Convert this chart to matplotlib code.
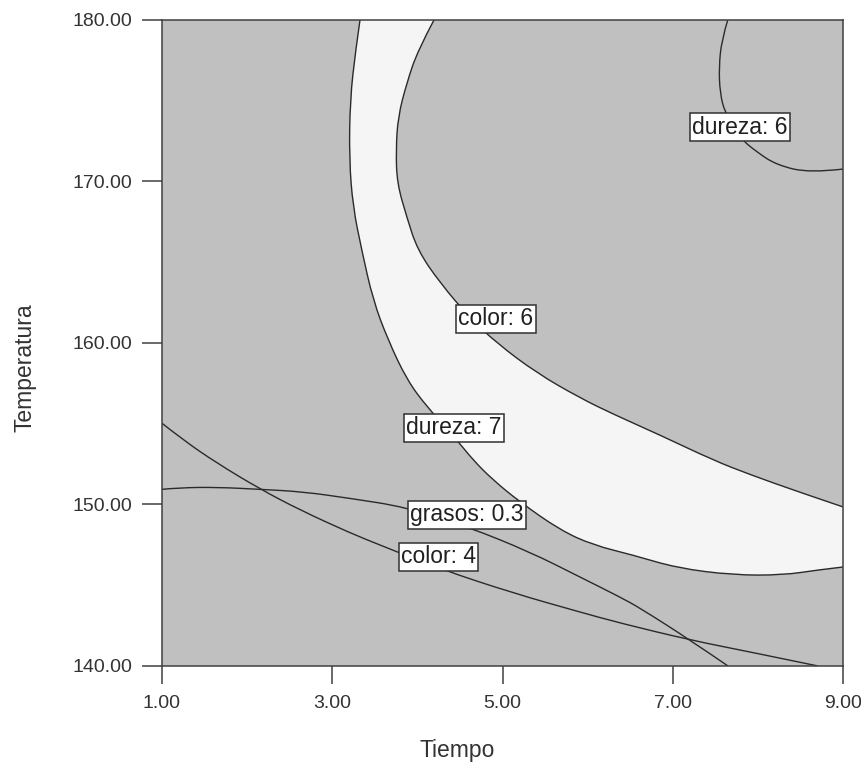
import numpy as np
import matplotlib
matplotlib.use('Agg')
from matplotlib import pyplot as plt
from matplotlib.path import Path
from matplotlib.patches import PathPatch

# curvas de contorno (Tiempo, Temperatura)
dureza7_x = [3.326, 3.275, 3.209, 3.200, 3.244, 3.346, 3.479, 3.655, 3.878, 4.113, 4.466,
             4.653, 4.888, 5.206, 5.676, 6.063, 6.533, 7.050, 7.708, 8.295, 8.694, 9.0]
dureza7_y = [180.0, 178.14, 175.05, 171.33, 168.42, 165.76, 162.66, 160.19, 157.71, 156.04, 153.99,
             152.76, 151.52, 150.15, 148.42, 147.49, 146.87, 146.07, 145.63, 145.63, 145.94, 146.13]

color6_x = [4.195, 4.007, 3.875, 3.772, 3.749, 3.761, 3.875, 4.001, 4.266, 4.618, 4.932,
            5.402, 5.910, 6.298, 6.850, 7.473, 7.908, 8.495, 9.0]
color6_y = [180.0, 178.14, 176.10, 173.99, 171.95, 169.91, 167.80, 165.76, 163.72, 161.55, 160.00,
            158.14, 156.60, 155.60, 154.30, 152.75, 151.85, 150.75, 149.85]

dureza6_x = [7.646, 7.575, 7.543, 7.555, 7.614, 7.790, 7.986, 8.221, 8.612, 9.0]
dureza6_y = [180.0, 178.76, 177.09, 175.48, 174.24, 172.69, 171.83, 171.02, 170.53, 170.77]

grasos_x = [1.0, 1.211, 1.643, 2.151, 2.656, 3.209, 3.855, 4.583, 5.323, 5.910, 6.380,
            6.615, 7.203, 7.649]
grasos_y = [150.94, 151.04, 151.07, 150.94, 150.79, 150.38, 149.85, 148.64, 147.06, 145.51, 144.27,
            143.59, 141.61, 140.0]

color4_x = [1.0, 1.250, 1.643, 2.151, 2.621, 3.209, 3.561, 4.266, 5.123, 5.910, 6.380,
            7.203, 7.908, 8.707]
color4_y = [155.03, 153.99, 152.57, 150.96, 149.66, 148.24, 147.49, 146.01, 144.52, 143.34, 142.66,
            141.61, 140.87, 140.0]

# etiquetas de las curvas
etiquetas = ['color: 6', 'dureza: 7', 'dureza: 6', 'grasos: 0.3', 'color: 4']
etiq_x = [4.924, 4.430, 7.790, 4.583, 4.248]
etiq_y = [161.49, 154.74, 173.37, 149.35, 146.75]

xticks = [1, 3, 5, 7, 9]
yticks = [140, 150, 160, 170, 180]


def suave(x, y):
    # trazo suave: los puntos leidos son puntos de control de curvas cuadraticas
    p = np.column_stack([x, y])
    verts = [p[0]]
    codes = [Path.MOVETO]
    for i in range(1, len(p) - 1):
        mid = (p[i] + p[i + 1]) / 2 if i < len(p) - 2 else p[i + 1]
        verts += [p[i], mid]
        codes += [Path.CURVE3, Path.CURVE3]
    if len(p) == 2:
        verts.append(p[1])
        codes.append(Path.LINETO)
    return verts, codes


plt.rcParams['font.family'] = ['Liberation Sans', 'DejaVu Sans']

fig = plt.figure(figsize=(8.62, 7.63), dpi=100)
ax = fig.add_axes([162 / 862, 97 / 763, 681 / 862, 646 / 763])
ax.set_facecolor('#c0c0c0')

# region factible (blanca) entre dureza 7 y color 6
v1, c1 = suave(dureza7_x, dureza7_y)
v2, c2 = suave(color6_x[::-1], color6_y[::-1])
c2 = [Path.LINETO] + c2[1:]
reg = Path(v1 + v2 + [v1[0]], c1 + c2 + [Path.CLOSEPOLY])
ax.add_patch(PathPatch(reg, fc='#f5f5f5', lw=0, zorder=1))

for cx, cy in [(dureza7_x, dureza7_y), (color6_x, color6_y), (dureza6_x, dureza6_y),
               (grasos_x, grasos_y), (color4_x, color4_y)]:
    v, c = suave(cx, cy)
    ax.add_patch(PathPatch(Path(v, c), fc='none', ec='#2a2a2a', lw=1.0, zorder=2))

for t, tx, ty in zip(etiquetas, etiq_x, etiq_y):
    ax.text(tx, ty, t, fontsize=16.5, color='#202020', ha='center', va='center', zorder=5,
            bbox=dict(boxstyle='square,pad=0.1', fc='white', ec='#303030', lw=1.1))

ax.set_xlim(1, 9)
ax.set_ylim(140, 180)
ax.set_xticks(xticks)
ax.set_yticks(yticks)
ax.set_xticklabels(['%.2f' % v for v in xticks])
ax.set_yticklabels(['%.2f' % v for v in yticks])
ax.tick_params(axis='x', length=13, width=1.1, color='#404040', pad=8, labelsize=14,
               labelcolor='#333333')
ax.tick_params(axis='y', length=14.5, width=1.1, color='#404040', pad=7, labelsize=14,
               labelcolor='#333333')
for s in ax.spines.values():
    s.set_color('#404040')
    s.set_linewidth(1.1)

fig.text(457 / 862, 1 - 751 / 763, 'Tiempo', fontsize=16.5, color='#333333',
         ha='center', va='center')
fig.text(25 / 862, 1 - 368 / 763, 'Temperatura', fontsize=16.5, color='#333333',
         ha='center', va='center', rotation=90)

plt.savefig('out.png', dpi=100)
